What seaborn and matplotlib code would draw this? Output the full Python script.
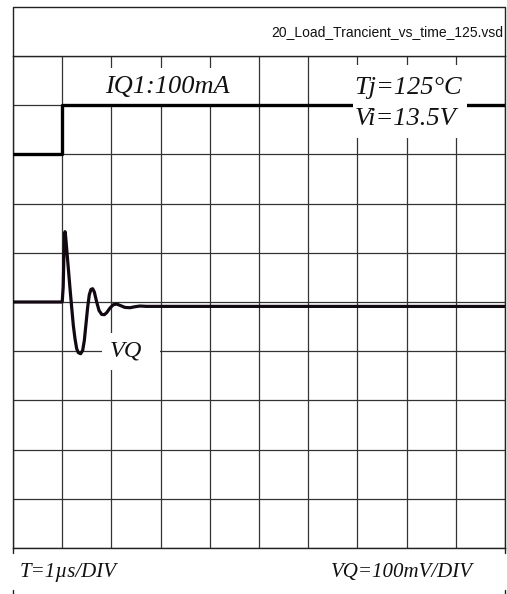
import matplotlib
matplotlib.use("Agg")
import matplotlib.pyplot as plt
from matplotlib.patches import Rectangle
import pandas as pd
import seaborn as sns

# ---- data (screen divisions: time 1 us/div, VQ 100 mV/div) ----
iq_time = [0.0, 1.0, 1.0, 10.0]
iq_level = [8.0, 8.0, 9.0, 9.0]

vq_time = [0.0, 1.0, 1.02, 1.035, 1.047, 1.057, 1.07, 1.091, 1.125, 1.159, 1.192,
           1.226, 1.260, 1.294, 1.328, 1.375, 1.416, 1.450, 1.484, 1.518, 1.551,
           1.585, 1.619, 1.653, 1.701, 1.748, 1.802, 1.856, 1.904, 1.972, 2.039,
           2.107, 2.175, 2.276, 2.378, 2.480, 2.581, 2.717, 10.0]
vq_level = [5.0, 5.0, 5.3, 5.95, 6.3, 6.43, 6.33, 6.083, 5.677, 5.271, 4.898,
            4.524, 4.254, 4.051, 3.970, 3.949, 4.016, 4.220, 4.559, 4.898, 5.148,
            5.256, 5.270, 5.203, 5.0, 4.829, 4.748, 4.742, 4.783, 4.878, 4.945,
            4.959, 4.931, 4.890, 4.884, 4.904, 4.918, 4.911, 4.91]

header_text = "20_Load_Trancient_vs_time_125.vsd"
iq_label = "IQ1:100mA"
cond_labels = ["Tj=125°C", "Vi=13.5V"]
vq_label = "VQ"
time_scale = "T=1\u00b5s/DIV"
volt_scale = "VQ=100mV/DIV"

iq_df = pd.DataFrame({"t": iq_time, "v": iq_level})
vq_df = pd.DataFrame({"t": vq_time, "v": vq_level})

sns.set_theme(style="white")
plt.rcParams["font.family"] = ["Liberation Serif", "DejaVu Serif"]

W, H = 507, 594
fig = plt.figure(figsize=(W / 100, H / 100), dpi=100)
ax = fig.add_axes([13 / W, 46 / H, 492 / W, 492 / H])
ax.set_xlim(0, 10)
ax.set_ylim(0, 10)
ax.set_xticks(range(11))
ax.set_yticks(range(11))
ax.set_axisbelow(True)
ax.grid(True, color="#333333", lw=0.9)
ax.tick_params(length=0, labelbottom=False, labelleft=False)
for s in ax.spines.values():
    s.set_color("#222222")
    s.set_linewidth(1.0)
ax.set_xlabel("")
ax.set_ylabel("")

frame_kw = dict(color="#222222", lw=1.0, clip_on=False)
# header box
ax.plot([0, 0, 10, 10], [10, 11, 11, 10], **frame_kw)
# bottom side ticks
for xx in (0, 10):
    ax.plot([xx, xx], [0, -0.1], **frame_kw)
    ax.plot([xx, xx], [-0.86, -0.96], **frame_kw)

# white label boxes
ax.add_patch(Rectangle((1.6, 9.0), 3.0, 0.76, facecolor="white", edgecolor="none", zorder=2))
ax.add_patch(Rectangle((6.91, 8.33), 2.32, 1.49, facecolor="white", edgecolor="none", zorder=4))
ax.add_patch(Rectangle((1.81, 3.62), 1.17, 0.75, facecolor="white", edgecolor="none", zorder=2))

sns.lineplot(data=iq_df, x="t", y="v", sort=False, estimator=None, ax=ax,
             color="black", lw=2.4, zorder=3)
sns.lineplot(data=vq_df, x="t", y="v", sort=False, estimator=None, ax=ax,
             color="#120812", lw=2.3, zorder=3)
ax.set_xlabel("")
ax.set_ylabel("")

lab_kw = dict(style="italic", color="#111111")
ax.text(9.96, 10.49, header_text, ha="right", va="center", fontsize=10,
        family=["Liberation Sans", "DejaVu Sans"], color="#111111")
ax.text(3.14, 9.24, iq_label, ha="center", va="baseline", fontsize=19, zorder=5, **lab_kw)
ax.text(8.04, 9.23, cond_labels[0], ha="center", va="baseline", fontsize=19, zorder=5, **lab_kw)
ax.text(7.97, 8.60, cond_labels[1], ha="center", va="baseline", fontsize=19, zorder=5, **lab_kw)
ax.text(2.29, 3.90, vq_label, ha="center", va="baseline", fontsize=17.5, zorder=5, **lab_kw)
ax.text(0.14, -0.58, time_scale, ha="left", va="baseline", fontsize=15, **lab_kw)
ax.text(9.35, -0.58, volt_scale, ha="right", va="baseline", fontsize=15, **lab_kw)

fig.savefig("out.png", dpi=100)
